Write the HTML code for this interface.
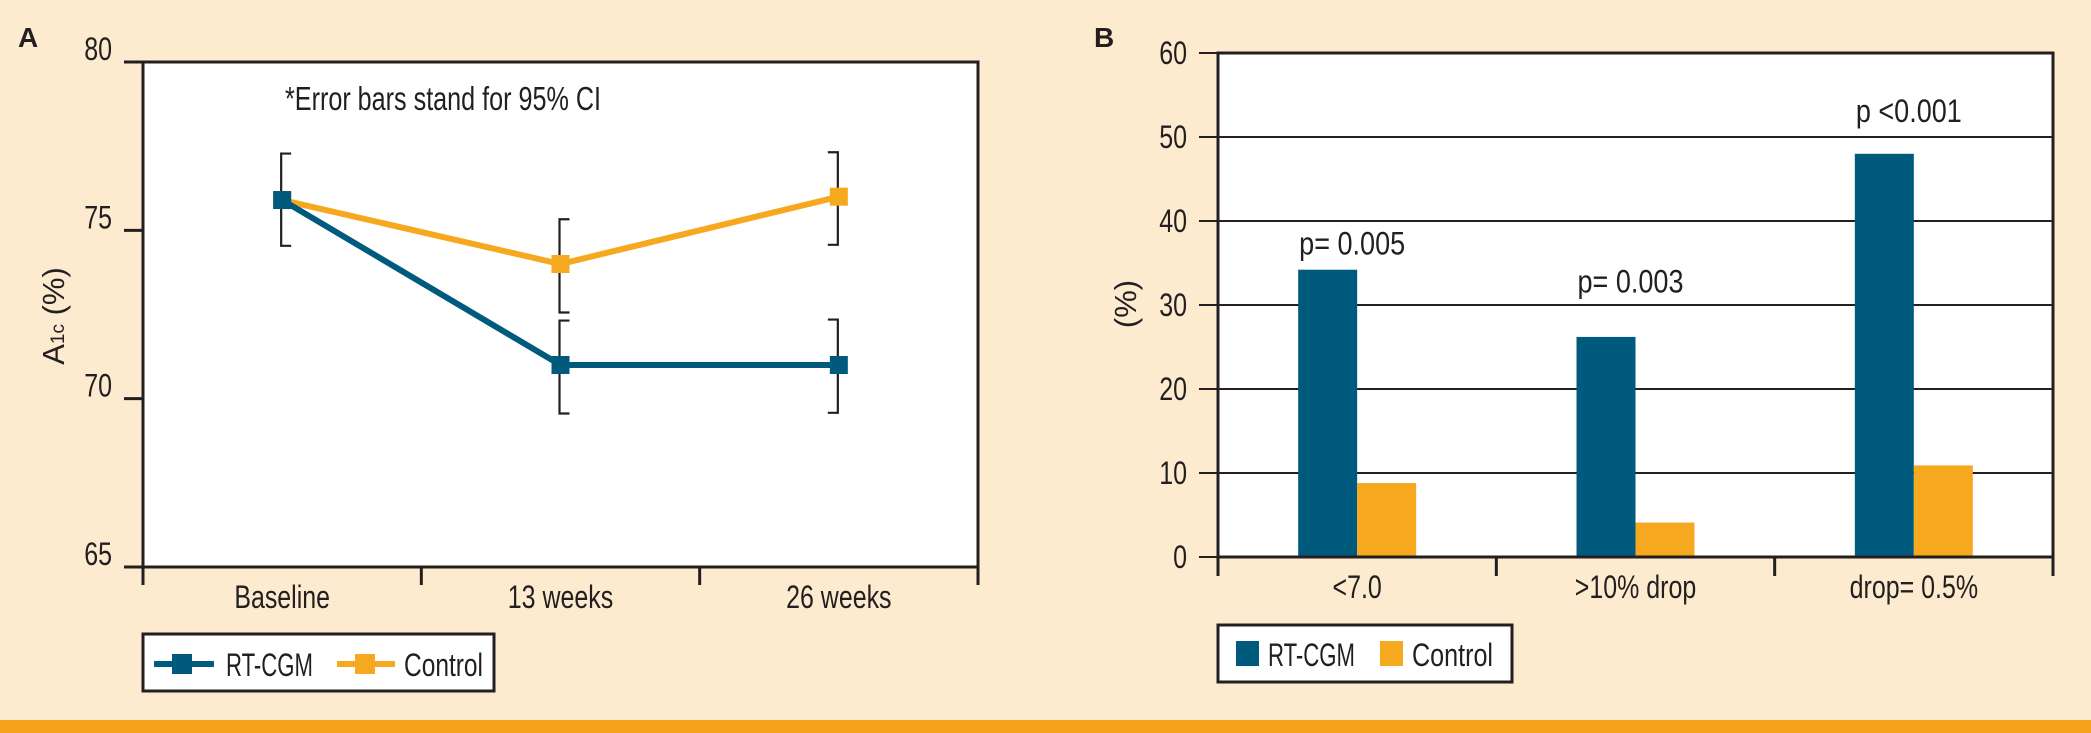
<!DOCTYPE html>
<html><head><meta charset="utf-8"><style>
html,body{margin:0;padding:0;background:#FDEBCF;}
svg{display:block;}
text,tspan{font-family:"Liberation Sans Narrow","Liberation Sans",sans-serif;fill:#231f20;}
</style></head><body>
<svg id="c" width="2091" height="733" viewBox="0 0 2091 733" xmlns="http://www.w3.org/2000/svg">
<rect x="0" y="0" width="2091" height="733" fill="#FDEBCF"/>
<rect x="0" y="720" width="2091" height="13" fill="#F6A21B"/>
</svg>
<script>
// Panel A data
const aCategories = ["Baseline", "13 weeks", "26 weeks"];
const aRT = [75.9, 71.0, 71.0];
const aControl = [75.9, 74.0, 76.0];
const aRTLow = [74.54, 69.56, 69.58];
const aRTHigh = [77.28, 72.32, 72.35];
const aCtlLow = [74.54, 72.56, 74.57];
const aCtlHigh = [77.28, 75.33, 77.32];
const aTicks = [65, 70, 75, 80];
// Panel B data
const bCategories = ["<7.0", ">10% drop", "drop= 0.5%"];
const bRT = [34.2, 26.2, 48.0];
const bControl = [8.8, 4.1, 10.9];
const bTicks = [0, 10, 20, 30, 40, 50, 60];
const bPLabels = ["p= 0.005", "p= 0.003", "p <0.001"];
const bPLevel = [36.0, 31.5, 51.8];

const NS = "http://www.w3.org/2000/svg";
const svg = document.getElementById("c");
const BLUE = "#005A7E", ORANGE = "#F6A81F", INK = "#231f20";
function mk(tag, attrs, parent) {
  const e = document.createElementNS(NS, tag);
  for (const k in attrs) e.setAttribute(k, attrs[k]);
  (parent || svg).appendChild(e);
  return e;
}
function txt(s, attrs, parent) { const t = mk("text", attrs, parent); t.textContent = s; return t; }

// ===== Panel A =====
const aL = 143, aR = 978, aT = 62, aB = 567;
const ay = v => aB - (v - 65) / 15 * (aB - aT);
const ax = i => aL + (aR - aL) / 3 * (i + 0.5);
let g = mk("g", {});


let pl = mk("rect", {x: aL, y: aT, width: aR - aL, height: aB - aT, fill: "#fff", stroke: INK, "stroke-width": 3}, g);


let t = txt("A", {x: 18, y: 47, "font-size": 28, "font-weight": "bold", "data-keep": "1"}, g);


aTicks.forEach(v => {
  let l = mk("line", {x1: 124, x2: aL, y1: ay(v), y2: ay(v), stroke: INK, "stroke-width": 3}, g);
  
  
  let tt = txt(String(v), {x: 112, y: ay(v) - 2, "font-size": 32, "text-anchor": "end"}, g);
  
  
});
for (let i = 0; i <= 3; i++) {
  const x = aL + (aR - aL) / 3 * i;
  let l = mk("line", {x1: x, x2: x, y1: aB, y2: 585, stroke: INK, "stroke-width": 3}, g);
  
  
}
aCategories.forEach((c, i) => {
  let tt = txt(c, {x: ax(i), y: 608, "font-size": 32, "text-anchor": "middle"}, g);
  
  
});
t = mk("text", {x: 0, y: 0, "font-size": 31, "text-anchor": "middle", transform: "translate(64,316) rotate(-90)", "data-keep": "1"}, g);
const s0 = mk("tspan", {"font-size": 31}, t); s0.textContent = "A";
const sub = mk("tspan", {"font-size": 19}, t); sub.textContent = "1c";
const rest = mk("tspan", {"font-size": 31}, t); rest.textContent = " (%)";


t = txt("*Error bars stand for 95% CI", {x: 285, y: 110, "font-size": 33, textLength: 316, lengthAdjust: "spacingAndGlyphs"}, g);


function bracket(i, lo, hi, dir) {
  const x = ax(i) - 1, y1 = ay(hi), y2 = ay(lo), s = 10 * dir;
  let p = mk("path", {d: `M${x + s},${y1} L${x},${y1} L${x},${y2} L${x + s},${y2}`, fill: "none", stroke: INK, "stroke-width": 2.2}, g);
  
  
}
aCategories.forEach((c, i) => {
  const dir = i === 2 ? -1 : 1;
  bracket(i, aRTLow[i], aRTHigh[i], dir);
  if (i > 0) bracket(i, aCtlLow[i], aCtlHigh[i], dir);
});
function series(vals, color, name) {
  let p = mk("polyline", {points: vals.map((v, i) => ax(i) + "," + ay(v)).join(" "), fill: "none", stroke: color, "stroke-width": 6}, g);
  
  
  vals.forEach((v, i) => {
    let r = mk("rect", {x: ax(i) - 9, y: ay(v) - 9, width: 18, height: 18, fill: color}, g);
    
    
  });
}
series(aControl, ORANGE, "control");
series(aRT, BLUE, "rt-cgm");
let lg = mk("g", {}, g);


mk("rect", {x: 143, y: 634, width: 351, height: 57, fill: "#fff", stroke: INK, "stroke-width": 3}, lg);
mk("line", {x1: 154, x2: 214, y1: 664, y2: 664, stroke: BLUE, "stroke-width": 6}, lg);
mk("rect", {x: 172, y: 654, width: 20, height: 20, fill: BLUE}, lg);
t = txt("RT-CGM", {x: 226, y: 676, "font-size": 32, textLength: 87, lengthAdjust: "spacingAndGlyphs"}, lg);


mk("line", {x1: 337, x2: 395, y1: 664, y2: 664, stroke: ORANGE, "stroke-width": 6}, lg);
mk("rect", {x: 355, y: 654, width: 20, height: 20, fill: ORANGE}, lg);
t = txt("Control", {x: 404, y: 676, "font-size": 32, textLength: 79, lengthAdjust: "spacingAndGlyphs"}, lg);



// ===== Panel B =====
const bL = 1218, bR = 2053, bT = 53, bB = 557;
const by = v => bB - v / 60 * (bB - bT);
const bw = (bR - bL) / 3;
const bx = i => bL + bw * (i + 0.5);
g = mk("g", {});


pl = mk("rect", {x: bL, y: bT, width: bR - bL, height: bB - bT, fill: "#fff"}, g);


t = txt("B", {x: 1094, y: 47, "font-size": 28, "font-weight": "bold", "data-keep": "1"}, g);


bTicks.forEach(v => {
  let l = mk("line", {x1: 1199, x2: bR, y1: by(v), y2: by(v), stroke: INK, "stroke-width": 2}, g);
  
  
  let tt = txt(String(v), {x: 1187, y: by(v) + 11, "font-size": 32, "text-anchor": "end"}, g);
  
  
});
bCategories.forEach((c, i) => {
  let r1 = mk("rect", {x: bx(i) - 59, y: by(bRT[i]), width: 59, height: bB - by(bRT[i]), fill: BLUE}, g);
  
  
  let r2 = mk("rect", {x: bx(i), y: by(bControl[i]), width: 59, height: bB - by(bControl[i]), fill: ORANGE}, g);
  
  
  let p = txt(bPLabels[i], {x: bx(i) - 5, y: by(bPLevel[i]), "font-size": 32, "text-anchor": "middle", textLength: 106, lengthAdjust: "spacingAndGlyphs"}, g);
  
  
  let tt = txt(c, {x: bx(i), y: 598, "font-size": 32, "text-anchor": "middle"}, g);
  
  
});
let fr = mk("path", {d: `M${bL},${bB} L${bL},${bT} L${bR},${bT} L${bR},${bB} Z`, fill: "none", stroke: INK, "stroke-width": 3}, g);


for (let i = 0; i <= 3; i++) {
  const x = bL + bw * i;
  let l = mk("line", {x1: x, x2: x, y1: bB, y2: 576, stroke: INK, "stroke-width": 3}, g);
  
  
}
t = txt("(%)", {x: 0, y: 0, "font-size": 31, "text-anchor": "middle", transform: "translate(1136,304) rotate(-90)", "data-keep": "1"}, g);


lg = mk("g", {}, g);


mk("rect", {x: 1218, y: 625, width: 294, height: 57, fill: "#fff", stroke: INK, "stroke-width": 3}, lg);
mk("rect", {x: 1236, y: 641, width: 23, height: 25, fill: BLUE}, lg);
t = txt("RT-CGM", {x: 1268, y: 666, "font-size": 32, textLength: 87, lengthAdjust: "spacingAndGlyphs"}, lg);


mk("rect", {x: 1380, y: 641, width: 23, height: 25, fill: ORANGE}, lg);
t = txt("Control", {x: 1412, y: 666, "font-size": 32, textLength: 81, lengthAdjust: "spacingAndGlyphs"}, lg);



// condense remaining labels to mimic the narrow typeface
svg.querySelectorAll("text").forEach(el => {
  if (el.hasAttribute("textLength") || el.hasAttribute("data-keep")) return;
  const w = el.getComputedTextLength();
  if (w > 0) {
    el.setAttribute("textLength", (w * 0.78).toFixed(1));
    el.setAttribute("lengthAdjust", "spacingAndGlyphs");
  }
});
</script>
</body></html>
